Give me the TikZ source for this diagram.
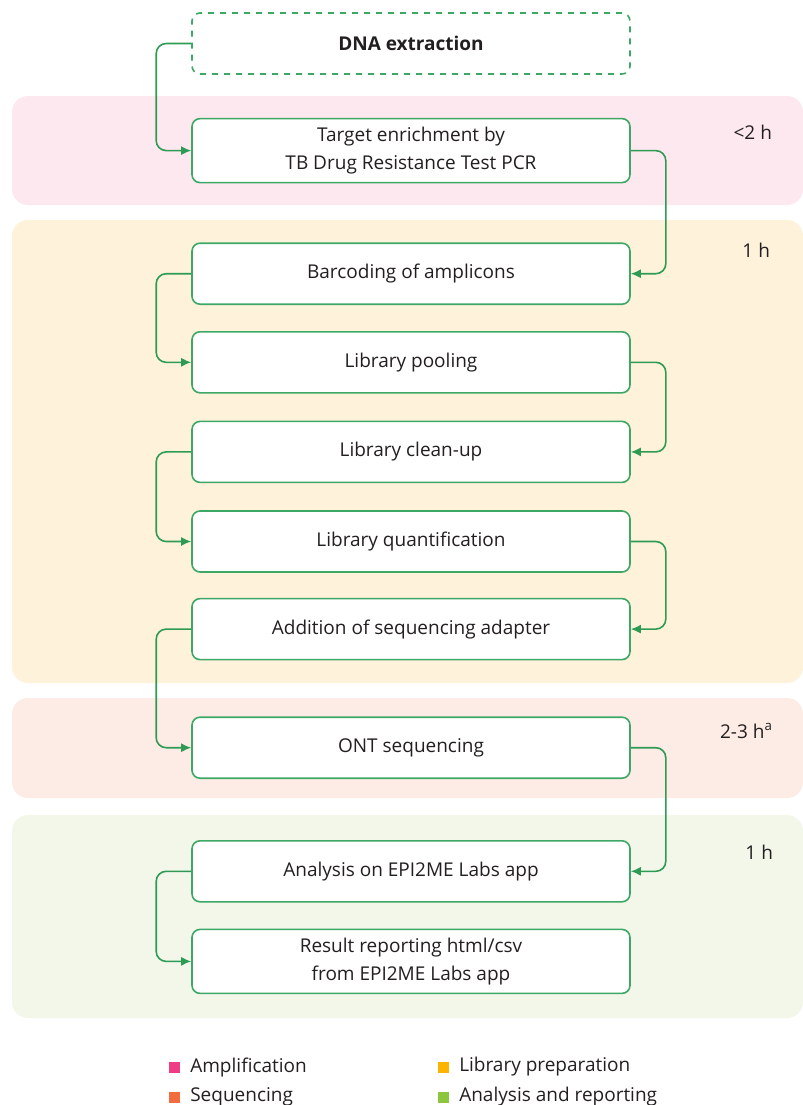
\documentclass[tikz,border=0pt]{standalone}
\usepackage{fontspec}
\setmainfont{Open Sans}
\usepackage{tikz}
\usetikzlibrary{positioning,arrows.meta}
\definecolor{boxgreen}{HTML}{3DA865}
\definecolor{arrgreen}{HTML}{2E9B55}
\definecolor{txt}{HTML}{231F20}
\definecolor{bandampl}{HTML}{FDE8EF}
\definecolor{bandlib}{HTML}{FEF2DA}
\definecolor{bandseq}{HTML}{FDEBE5}
\definecolor{bandana}{HTML}{F2F7EA}
\definecolor{sqampl}{HTML}{EE3D84}
\definecolor{sqseq}{HTML}{F36C3D}
\definecolor{sqlib}{HTML}{FBB400}
\definecolor{sqana}{HTML}{8CC63F}
\tikzset{stepbox/.style={draw=boxgreen,line width=0.8pt,fill=white,rounded corners=4pt,
  minimum width=219pt,minimum height=30.5pt,align=center,text=txt,
  font=\fontsize{9.5}{14}\selectfont},
  legsq/.style={fill=#1,minimum size=5.5pt,inner sep=0pt}}
\tikzstyle{flow} = [draw=arrgreen,line width=0.8pt,rounded corners=5pt,-{Latex[length=5pt,width=4.5pt]}]
\tikzstyle{band} = [rounded corners=8pt]
\tikzstyle{tlabel} = [anchor=east,text=txt,font=\fontsize{9.5}{12}\selectfont]
\tikzstyle{legtxt} = [anchor=west,text=txt,inner sep=0pt,font=\fontsize{9.5}{12}\selectfont]

\begin{document}
\begin{tikzpicture}[x=0.5pt,y=-0.5pt]
	\useasboundingbox (0,0) rectangle (803,1105);
	% phase bands
	\fill[band,bandampl] (12,96) rectangle (803,205);
	\fill[band,bandlib] (12,220) rectangle (803,683);
	\fill[band,bandseq] (12,698) rectangle (803,798);
	\fill[band,bandana] (12,815) rectangle (803,1018);

	% steps
	\node[stepbox,dashed,font=\fontsize{9.5}{14}\selectfont\bfseries] (dna) at (411,43.5) {DNA extraction};
	\node[stepbox,minimum height=32pt,below=21.5pt of dna] (tgt) {Target enrichment by\\TB Drug Resistance Test PCR};
	\node[stepbox,below=29.5pt of tgt] (bar) {Barcoding of amplicons};
	\node[stepbox,below=13pt of bar] (pool) {Library pooling};
	\node[stepbox,below=13.5pt of pool] (clean) {Library clean-up};
	\node[stepbox,below=13.5pt of clean] (quant) {Library quantification};
	\node[stepbox,below=12.5pt of quant] (addn) {Addition of sequencing adapter};
	\node[stepbox,below=28pt of addn] (ont) {ONT sequencing};
	\node[stepbox,below=30.5pt of ont] (anl) {Analysis on EPI2ME Labs app};
	\node[stepbox,minimum height=32pt,below=13pt of anl] (res) {Result reporting html/csv\\from EPI2ME Labs app};

	% connectors
	\foreach \a/\b in {dna/tgt,bar/pool,clean/quant,addn/ont,anl/res}
		\draw[flow] (\a.west) -- ++(-35,0) |- (\b.west);
	\foreach \a/\b in {tgt/bar,pool/clean,quant/addn,ont/anl}
		\draw[flow] (\a.east) -- ++(35,0) |- (\b.east);

	% times
	\node[tlabel] (t1) at (779,132) {<2 h};
	\node[tlabel] (t2) at (777,250) {1 h};
	\node[tlabel] (t3) at (780,731) {2-3 h\textsuperscript{a}};
	\node[tlabel] (t4) at (780,852) {1 h};

	% legend
	\node[legsq=sqampl] (la) at (174,1067) {};
	\node[legtxt,right=5pt of la] (lat) {Amplification};
	\node[legsq=sqseq] (ls) at (174,1097) {};
	\node[legtxt,right=5pt of ls] (lst) {Sequencing};
	\node[legsq=sqlib] (ll) at (443,1067) {};
	\node[legtxt,right=5pt of ll] (llt) {Library preparation};
	\node[legsq=sqana] (ln) at (443,1097) {};
	\node[legtxt,right=5pt of ln] (lnt) {Analysis and reporting};
\end{tikzpicture}
\end{document}
